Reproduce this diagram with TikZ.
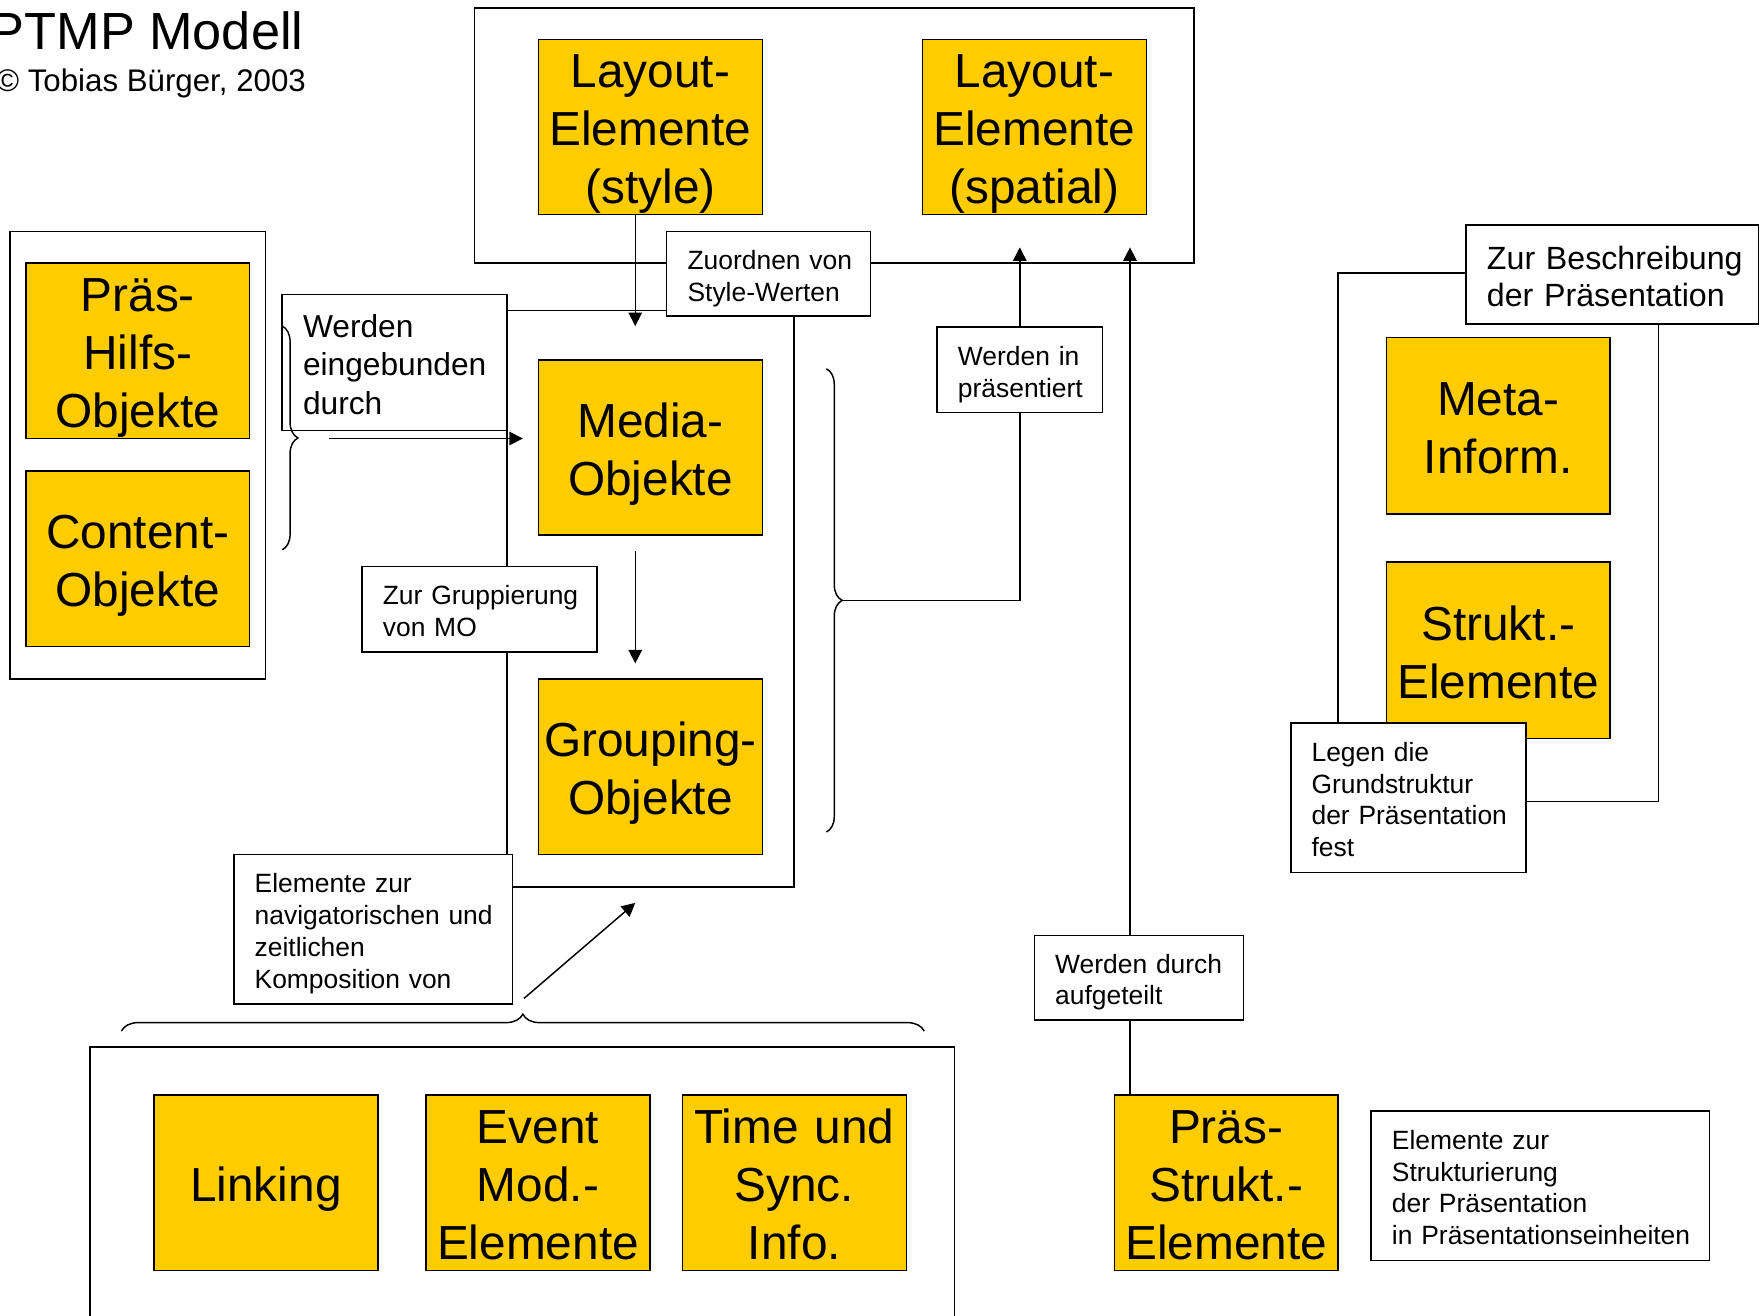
\documentclass[tikz,border=0pt]{standalone}
\usepackage{fontspec}
\setmainfont{Liberation Sans}
\usetikzlibrary{arrows.meta,decorations.pathreplacing}
\definecolor{yel}{HTML}{FFCC00}
\newcommand\TxC[1]{\leavevmode\makebox[0pt]{\smash{#1}}\vrule width 0pt height \dimexpr\fontcharht\font`\H+4pt\relax}
\newcommand\TxL[1]{\leavevmode\smash{#1}\vrule width 0pt height \dimexpr\fontcharht\font`\H+4pt\relax}
\newcommand\fYel{\fontsize{42.5}{51.5}\selectfont}
\newcommand\fLab{\fontsize{23.5}{28.3}\selectfont}
\newcommand\fLabB{\fontsize{28.2}{34.3}\selectfont}
\newcommand\fLabC{\fontsize{28.6}{32.9}\selectfont}
\begin{document}
\begin{tikzpicture}[x=1pt,y=-1pt,line width=1.3pt,
  ybox/.style={draw, fill=yel, line width=1.3pt, inner sep=0pt, minimum width=199pt,
    minimum height=156pt, text width=199pt, align=center, font=\fYel},
  lbox/.style={draw, fill=white, line width=1.3pt, inner ysep=0pt, inner xsep=18.5pt, align=left, font=\fLab},
  cont/.style={draw, line width=1.3pt, inner sep=0pt},
  arr/.style={-{Triangle[length=12pt,width=12pt]}, line width=1.3pt},
  brc/.style={decorate, decoration={brace, amplitude=14pt}, line width=1.3pt}]
\useasboundingbox (0,0) rectangle (1568,1170);

% title
\node[anchor=base east, inner sep=0pt, font=\fontsize{46.5}{50}\selectfont] (title) at (270.5,44) {PTMP Modell};
\node[anchor=base east, inner sep=0pt, font=\fontsize{27.8}{30}\selectfont] (copyr) at (272.7,81.5) {© Tobias Bürger, 2003};

% containers
\node[cont, minimum width=640pt, minimum height=227pt] (layC) at (742,120.5) {};
\node[cont, minimum width=255pt, minimum height=513pt] (medC) at (578.5,532.5) {};
\node[cont, minimum width=227pt, minimum height=398pt] (leftC) at (122.5,405) {};
\node[cont, minimum width=285pt, minimum height=470pt] (rightC) at (1332.5,478) {};
\node[cont, minimum width=769pt, minimum height=269pt] (botC) at (464.5,1065.5) {};

% yellow boxes
\node[ybox] (LayS) at (578.5,113) {\TxC{Layout-}\\\TxC{Elemente}\\\TxC{(style)}};
\node[ybox] (LayP) at (920,113) {\TxC{Layout-}\\\TxC{Elemente}\\\TxC{(spatial)}};
\node[ybox] (Media) at (578.5,398) {\TxC{Media-}\\\TxC{Objekte}};
\node[ybox] (Group) at (578.5,682) {\TxC{Grouping-}\\\TxC{Objekte}};
\node[ybox] (PHO) at (122.5,312) {\TxC{Präs-}\\\TxC{Hilfs-}\\\TxC{Objekte}};
\node[ybox] (CO) at (122.5,497) {\TxC{Content-}\\\TxC{Objekte}};
\node[ybox, minimum height=157pt] (Meta) at (1332.5,378.5) {\TxC{Meta-}\\\TxC{Inform.}};
\node[ybox, minimum height=157pt] (Strukt) at (1332.5,578.5) {\TxC{Strukt.-}\\\TxC{Elemente}};
\node[ybox] (Link) at (236.5,1052) {\TxC{Linking}};
\node[ybox] (Event) at (478.5,1052) {\TxC{Event}\\\TxC{Mod.-}\\\TxC{Elemente}};
\node[ybox] (Time) at (706.5,1052) {\TxC{Time und}\\\TxC{Sync.}\\\TxC{Info.}};
\node[ybox] (PSE) at (1090.5,1052) {\TxC{Präs-}\\\TxC{Strukt.-}\\\TxC{Elemente}};

% label boxes
\node[lbox, minimum width=181pt, text width=144pt, minimum height=75pt] (Zuord) at (683.5,243.5)
  {\TxL{Zuordnen von}\\\TxL{Style-Werten}};
\node[lbox, minimum width=200pt, text width=163pt, minimum height=121pt, font=\fLabB] (Eingeb) at (351,322.5)
  {\TxL{Werden}\\\TxL{eingebunden}\\\TxL{durch}};
\node[lbox, minimum width=209pt, text width=172pt, minimum height=76pt] (Grupp) at (426.5,542)
  {\TxL{Zur Gruppierung}\\\TxL{von MO}};
\node[lbox, minimum width=147pt, text width=110pt, minimum height=76pt] (WerdenIn) at (907,329)
  {\TxL{Werden in}\\\TxL{präsentiert}};
\node[lbox, minimum width=260pt, text width=223pt, minimum height=88pt, font=\fLabC] (Beschr) at (1434,244)
  {\TxL{Zur Beschreibung}\\\TxL{der Präsentation}};
\node[lbox, minimum width=209pt, text width=172pt, minimum height=133pt] (Legen) at (1252.5,709.5)
  {\TxL{Legen die}\\\TxL{Grundstruktur}\\\TxL{der Präsentation}\\\TxL{fest}};
\node[lbox, minimum width=248pt, text width=211pt, minimum height=133pt] (Nav) at (332,826.5)
  {\TxL{Elemente zur}\\\TxL{navigatorischen und}\\\TxL{zeitlichen}\\\TxL{Komposition von}};
\node[lbox, minimum width=186pt, text width=149pt, minimum height=75pt] (Durch) at (1013,869.5)
  {\TxL{Werden durch}\\\TxL{aufgeteilt}};
\node[lbox, minimum width=301pt, text width=264pt, minimum height=133pt] (StruktL) at (1370,1054.5)
  {\TxL{Elemente zur}\\\TxL{Strukturierung}\\\TxL{der Präsentation}\\\TxL{in Präsentationseinheiten}};

% braces
\draw[brc] (251,290) -- (251,489);
\draw[brc] (735,328) -- (735,740);
\draw[brc, decoration={amplitude=15pt}] (108,917) -- (822,917);

% coordinates for free ends
\coordinate (styleTip) at (565,290);
\coordinate (mgA) at (565,490);
\coordinate (mgB) at (565,590);
\coordinate (ebA) at (293,390);
\coordinate (ebB) at (465,390);
\coordinate (brTip) at (749,534);
\coordinate (lpTip) at (907,220);
\coordinate (divTip) at (1005,220);
\coordinate (navA) at (466,888);
\coordinate (navB) at (565,803);

% connectors
\draw[arr] (styleTip |- LayS.south) -- (styleTip);
\draw[arr] (mgA) -- (mgB);
\draw[arr] (ebA) -- (ebB);
\draw (brTip) -| (WerdenIn.south);
\draw[arr] (WerdenIn.north) -- (lpTip);
\draw (PSE.north -| divTip) -- (Durch.south -| divTip);
\draw[arr] (Durch.north -| divTip) -- (divTip);
\draw[arr] (navA) -- (navB);
\end{tikzpicture}
\end{document}
